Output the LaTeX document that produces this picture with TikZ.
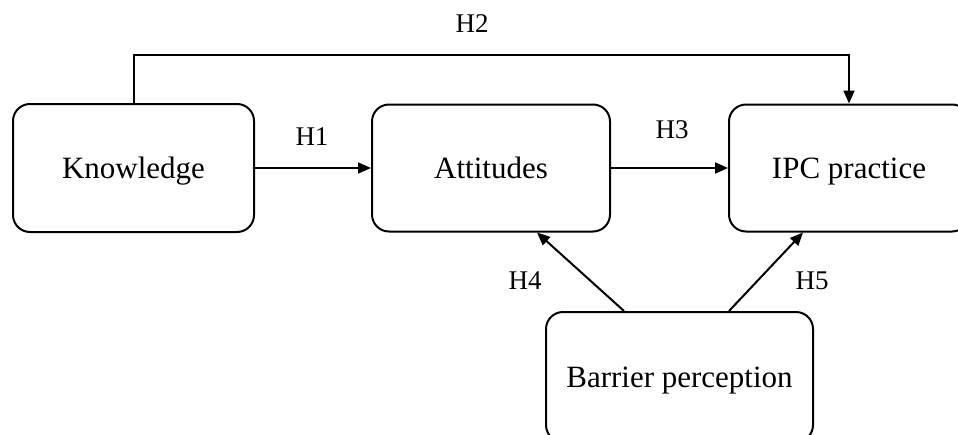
\documentclass[tikz,border=0pt]{standalone}
\usepackage{fontspec}
\setmainfont{Liberation Serif}
\usetikzlibrary{arrows.meta}
\begin{document}
\begin{tikzpicture}[x=1pt,y=-1pt,
  box/.style={draw,line width=2pt,rounded corners=17pt,inner sep=0pt,text depth=0pt,
    font=\fontsize{31}{36}\selectfont},
  conn/.style={line width=2pt,-{Triangle[length=13pt,width=11pt]}},
  lab/.style={font=\fontsize{27}{32}\selectfont,inner sep=0pt}]
\useasboundingbox (0,0) rectangle (958,434);
\clip (0,0) rectangle (958,434);
\fill[white] (0,0) rectangle (958,434);
\node[box,minimum width=241pt,minimum height=128pt] (K) at (133.5,168) {Knowledge};
\node[box,minimum width=238pt,minimum height=127pt] (A) at (491,168) {Attitudes};
\node[box,minimum width=240pt,minimum height=127pt] (I) at (849,168) {IPC practice};
\node[box,minimum width=267pt,minimum height=130pt] (B) at (679.5,377) {Barrier perception};
\draw[conn] (K.east) -- (A.west);
\draw[conn] (A.east) -- (I.west);
\draw[conn] (K.north) -- ++(0,-48) -| (I.north);
\draw[conn] ([xshift=-55.5]B.north) -- ([xshift=46]A.south);
\draw[conn] ([xshift=49.5]B.north) -- ([xshift=-46]I.south);
\node[lab] (h1) at (312,137) {H1};
\node[lab] (h2) at (472,24) {H2};
\node[lab] (h3) at (672,130) {H3};
\node[lab] (h4) at (525,281) {H4};
\node[lab] (h5) at (812,281) {H5};
\end{tikzpicture}
\end{document}
